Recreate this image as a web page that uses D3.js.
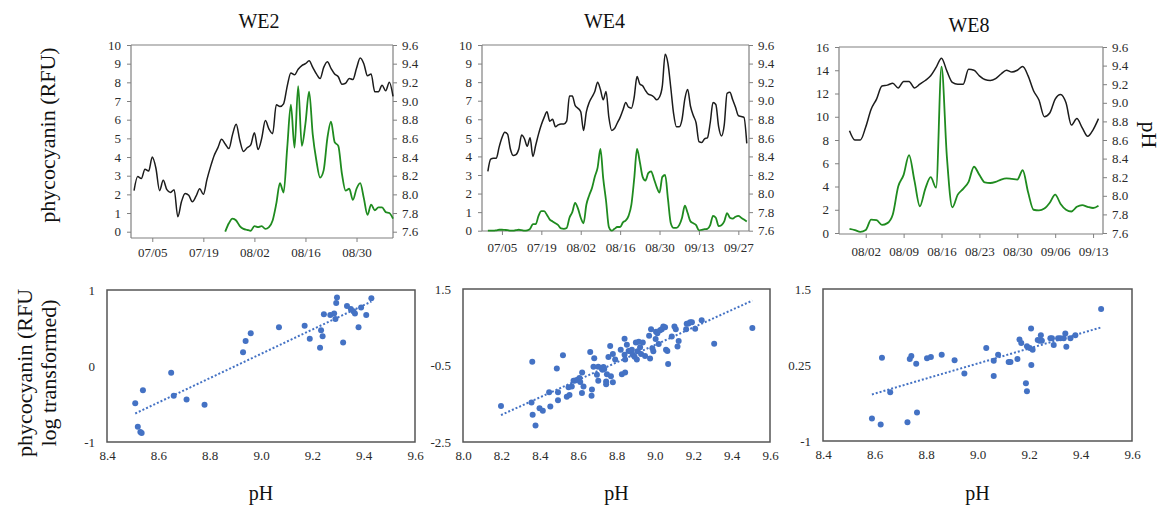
<!DOCTYPE html>
<html lang="en">
<head>
  <meta charset="UTF-8">
  <title>phycocyanin vs pH</title>
  <style>
    body { margin: 0; background: #fff; }
    svg text { font-family: "Liberation Serif", "Times New Roman", serif !important; }
  </style>
</head>
<body>
  <script src="https://cdn.jsdelivr.net/npm/d3@7"></script>
  <script>
    // ---- time series (daily) ----
    const we2Start = "2019-06-30";
    const we2PH = [8.04, 8.19, 8.17, 8.27, 8.25, 8.40, 8.28, 8.04, 8.15, 8.05,
      8.02, 8.05, 7.76, 7.92, 8.01, 7.99, 7.92, 7.98, 8.06, 8.00,
      8.16, 8.30, 8.42, 8.50, 8.59, 8.54, 8.49, 8.64, 8.75, 8.58,
      8.46, 8.50, 8.53, 8.66, 8.48, 8.60, 8.79, 8.70, 8.65, 8.96,
      8.94, 8.97, 9.16, 9.30, 9.28, 9.34, 9.38, 9.40, 9.43, 9.36,
      9.29, 9.24, 9.36, 9.42, 9.35, 9.29, 9.26, 9.18, 9.19, 9.24,
      9.23, 9.35, 9.46, 9.40, 9.27, 9.29, 9.10, 9.10, 9.17, 9.11,
      9.20, 9.05];
    const we2RfuStart = "2019-07-25";
    const we2RFU = [0.0, 0.45, 0.7, 0.6, 0.3, 0.15, 0.1, 0.05, 0.3, 0.25,
      0.3, 0.15, 0.25, 0.6, 1.5, 2.6, 2.1, 4.5, 6.8, 4.5,
      7.8, 4.6, 5.8, 7.5, 5.2, 3.8, 2.9, 3.3, 5.0, 5.9,
      4.8, 4.6, 3.1, 2.2, 2.3, 1.7, 2.3, 2.6, 1.8, 0.9,
      1.45, 1.15, 1.3, 1.3, 1.05, 1.0, 0.7];

    const we4Start = "2019-06-30";
    const we4PH = [8.24, 8.37, 8.38, 8.38, 8.50, 8.60, 8.66, 8.64, 8.48, 8.41,
      8.42, 8.48, 8.63, 8.59, 8.51, 8.60, 8.40, 8.52, 8.64, 8.74,
      8.82, 8.88, 8.78, 8.80, 8.72, 8.74, 8.75, 8.75, 8.78, 9.05,
      9.05, 8.95, 8.92, 8.88, 8.68, 8.88, 8.98, 9.04, 9.10, 9.20,
      9.12, 9.01, 9.10, 8.82, 8.68, 8.70, 8.76, 8.82, 8.90, 8.98,
      8.93, 8.92, 9.04, 9.26, 9.18, 9.16, 9.11, 9.07, 9.06, 9.04,
      9.01, 9.04, 9.16, 9.50, 9.40, 9.14, 8.86, 8.72, 8.72, 8.80,
      9.02, 9.12, 8.94, 8.84, 8.76, 8.56, 8.55, 8.59, 8.60, 8.76,
      8.98, 8.96, 8.72, 8.62, 8.74, 9.08, 9.09, 9.01, 8.93, 8.84,
      8.83, 8.82, 8.54];
    const we4RfuStart = "2019-06-30";
    const we4RFU = [0, 0, 0, 0.02, 0.05, 0.05, 0.04, 0.03, 0, 0,
      0.03, 0.05, 0.03, 0, 0.02, 0.1, 0.35, 0.35, 0.8, 1.05,
      1.05, 0.85, 0.6, 0.5, 0.4, 0.3, 0.12, 0.1, 0.15, 0.7,
      1.0, 1.5, 1.2, 0.7, 0.4, 1.4, 1.9, 2.3, 2.9, 3.4,
      4.4, 2.8, 1.6, 0.2, 0, 0.1, 0.2, 0.2, 0.45, 0.55,
      0.8, 1.4, 2.8, 4.4, 3.7, 2.9, 2.7, 3.1, 3.2, 2.8,
      2.35, 2.05, 2.9, 3.0, 1.7, 0.4, 0.15, 0.15, 0.3, 0.7,
      1.35, 0.95, 0.5, 0.4, 0.3, 0.02, 0.05, 0.08, 0.1, 0.3,
      0.8, 0.7, 0.25, 0.3, 0.5, 0.95, 0.7, 0.65, 0.75, 0.8,
      0.7, 0.6, 0.5];

    const we8Start = "2019-07-30";
    const we8PH = [8.70, 8.60, 8.60, 8.74, 8.93, 9.04, 9.18, 9.19, 9.21, 9.16,
      9.23, 9.23, 9.16, 9.20, 9.24, 9.29, 9.38, 9.48, 9.34, 9.22,
      9.20, 9.20, 9.36, 9.35, 9.29, 9.25, 9.24, 9.26, 9.31, 9.35,
      9.33, 9.35, 9.39, 9.29, 9.13, 9.03, 8.85, 8.89, 9.04, 9.09,
      9.00, 8.76, 8.83, 8.73, 8.64, 8.71, 8.83];
    const we8RfuStart = "2019-07-30";
    const we8RFU = [0.35, 0.25, 0.1, 0.25, 1.15, 1.1, 0.7, 0.85, 1.6, 4.0,
      5.0, 6.7, 4.5, 2.3, 3.8, 4.8, 3.9, 14.3, 6.5, 2.2,
      3.3, 3.8, 4.4, 5.7, 5.0, 4.35, 4.3, 4.4, 4.6, 4.7,
      4.65, 4.6, 5.4, 3.5, 2.0, 1.95, 2.1, 2.6, 3.3, 2.5,
      2.0, 1.85, 2.25, 2.4, 2.25, 2.15, 2.35];

    const we2Ticks = ["07/05", "07/19", "08/02", "08/16", "08/30"];
    const we4Ticks = ["07/05", "07/19", "08/02", "08/16", "08/30", "09/13", "09/27"];
    const we8Ticks = ["08/02", "08/09", "08/16", "08/23", "08/30", "09/06", "09/13"];

    // ---- scatter (pH vs log phycocyanin) ----
    const we2ScatPH = [8.51, 8.54, 8.52, 8.53, 8.535, 8.65, 8.66, 8.71, 8.78, 8.93,
      8.94, 8.96, 9.07, 9.17, 9.19, 9.23, 9.234, 9.24, 9.245, 9.27,
      9.285, 9.29, 9.293, 9.296, 9.32, 9.335, 9.35, 9.36, 9.366, 9.38,
      9.39, 9.41, 9.43];
    const we2ScatPC = [-0.49, -0.32, -0.80, -0.87, -0.88, -0.09, -0.39, -0.44, -0.51, 0.18,
      0.33, 0.43, 0.51, 0.53, 0.36, 0.24, 0.47, 0.39, 0.68, 0.67,
      0.69, 0.62, 0.83, 0.90, 0.31, 0.79, 0.75, 0.72, 0.69, 0.51,
      0.77, 0.67, 0.89];

    const we4ScatPH = [8.198, 8.361, 8.357, 8.363, 8.378, 8.399, 8.416, 8.449, 8.455, 8.489,
      8.495, 8.495, 8.521, 8.541, 8.555, 8.550, 8.567, 8.576, 8.585, 8.597,
      8.607, 8.611, 8.621, 8.620, 8.628, 8.663, 8.670, 8.672, 8.684, 8.680,
      8.698, 8.705, 8.705, 8.727, 8.732, 8.736, 8.746, 8.746, 8.750, 8.758,
      8.767, 8.771, 8.781, 8.781, 8.793, 8.822, 8.828, 8.842, 8.842, 8.845,
      8.845, 8.854, 8.863, 8.871, 8.880, 8.885, 8.894, 8.901, 8.906, 8.909,
      8.916, 8.923, 8.928, 8.937, 8.949, 8.970, 8.975, 8.980, 8.987, 8.992,
      9.004, 9.006, 9.013, 9.020, 9.027, 9.036, 9.044, 9.053, 9.058, 9.065,
      9.069, 9.088, 9.102, 9.109, 9.118, 9.124, 9.163, 9.166, 9.175, 9.184,
      9.193, 9.210, 9.244, 9.309, 9.508];
    const we4ScatPC = [-1.56, -0.40, -1.47, -1.79, -2.07, -1.62, -1.68, -1.20, -1.57, -0.58,
      -1.20, -1.41, -0.23, -1.32, -1.27, -1.07, -1.05, -0.90, -0.89, -0.87,
      -0.83, -0.93, -0.68, -1.22, -1.05, -0.15, -1.29, -1.13, -0.31, -0.53,
      -0.74, -0.90, -0.53, -0.61, -0.54, -0.59, -0.92, -0.99, -0.73, -0.28,
      0.01, -0.78, -0.20, -0.94, -0.34, -0.09, -0.73, 0.20, -0.22, -0.34,
      -0.68, 0.04, -0.12, -0.13, -0.09, -0.22, -0.27, 0.10, -0.34, -0.13,
      0.12, -0.02, -0.20, 0.10, -0.25, 0.28, -0.32, 0.45, -0.05, -0.13,
      0.19, 0.38, 0.34, 0.06, 0.42, 0.45, 0.52, 0.50, -0.09, -0.12,
      -0.46, 0.26, 0.52, 0.45, 0.00, 0.14, 0.45, 0.59, 0.60, 0.63,
      0.63, 0.46, 0.68, 0.07, 0.48];

    const we8ScatPH = [8.590, 8.624, 8.629, 8.661, 8.728, 8.737, 8.743, 8.762, 8.765, 8.804,
      8.819, 8.861, 8.911, 8.949, 9.034, 9.063, 9.063, 9.080, 9.121, 9.128,
      9.155, 9.163, 9.170, 9.188, 9.192, 9.192, 9.203, 9.208, 9.209, 9.214,
      9.234, 9.241, 9.246, 9.250, 9.283, 9.289, 9.296, 9.313, 9.322, 9.335,
      9.341, 9.345, 9.361, 9.380, 9.480];
    const we8ScatPC = [-0.63, -0.73, 0.37, -0.20, -0.69, 0.35, 0.40, 0.27, -0.53, 0.36,
      0.38, 0.42, 0.33, 0.11, 0.53, 0.32, 0.07, 0.42, 0.30, 0.30,
      0.35, 0.67, 0.61, -0.05, -0.18, 0.56, 0.53, 0.85, 0.25, 0.50,
      0.66, 0.65, 0.74, 0.65, 0.69, 0.69, 0.58, 0.69, 0.69, 0.69,
      0.77, 0.55, 0.69, 0.74, 1.17];

    const axisGray = "#808080";
    const textCol = "#2a2a2a";
    const blue = "#4472c4";
    const serif = "Liberation Serif";

    const svg = d3.select("body").append("svg")
      .attr("width", 1160).attr("height", 512)
      .attr("font-family", serif);

    const parseDay = d3.timeParse("%Y-%m-%d");
    const parseTick = d3.timeParse("%m/%d/%Y");
    const parseIso = d3.isoParse;
    function daily(start, values) {
      const t0 = parseDay(start);
      return values.map((v, i) => ({ date: d3.timeDay.offset(t0, i), v: v }));
    }

    function styleAxis(a) {
      a.attr("font-family", serif).attr("font-size", 13);
      a.select(".domain").remove();
      a.selectAll("line").attr("stroke", axisGray);
      a.selectAll("text").attr("fill", textCol);
    }

    function timePanel(cfg) {
      const g = svg.append("g");
      const x = d3.scaleTime()
        .domain(cfg.domain.map(parseIso))
        .range([cfg.left, cfg.right]);
      const yL = d3.scaleLinear().domain([0, cfg.rfuMax]).range([cfg.zero, cfg.top]);
      const yR = d3.scaleLinear().domain([7.6, 9.6]).range([cfg.zero, cfg.top]);

      // frame lines
      g.append("line").attr("x1", cfg.left).attr("x2", cfg.right)
        .attr("y1", cfg.top).attr("y2", cfg.top);
      g.append("line").attr("x1", cfg.left).attr("x2", cfg.right)
        .attr("y1", cfg.axisY).attr("y2", cfg.axisY);
      g.append("line").attr("x1", cfg.left).attr("x2", cfg.left)
        .attr("y1", cfg.top).attr("y2", cfg.axisY);
      g.append("line").attr("x1", cfg.right).attr("x2", cfg.right)
        .attr("y1", cfg.top).attr("y2", cfg.axisY);
      g.selectAll("line").attr("stroke", axisGray).attr("stroke-width", 1.2);

      const left = g.append("g").attr("transform", `translate(${cfg.left},0)`)
        .call(d3.axisLeft(yL).tickValues(d3.range(0, cfg.rfuMax + 0.1, cfg.rfuStep))
          .tickSize(4).tickPadding(6));
      const right = g.append("g").attr("transform", `translate(${cfg.right},0)`)
        .call(d3.axisRight(yR).tickValues(d3.range(7.6, 9.65, 0.2))
          .tickFormat(d3.format(".1f")).tickSize(4).tickPadding(5));
      const bottom = g.append("g").attr("transform", `translate(0,${cfg.axisY})`)
        .call(d3.axisBottom(x).tickValues(cfg.ticks.map(t => parseTick(t + "/2019")))
          .tickFormat(d3.timeFormat("%m/%d")).tickSize(4).tickPadding(cfg.tickPad));
      [left, right, bottom].forEach(styleAxis);

      const lineR = d3.line().x(d => x(d.date)).y(d => yR(d.v)).curve(d3.curveMonotoneX);
      const lineL = d3.line().x(d => x(d.date)).y(d => yL(d.v)).curve(d3.curveMonotoneX);
      g.append("path").datum(daily(cfg.phStart, cfg.ph))
        .attr("d", lineR).attr("fill", "none")
        .attr("stroke", "#1c1c1c").attr("stroke-width", 1.5);
      g.append("path").datum(daily(cfg.rfuStart, cfg.rfu))
        .attr("d", lineL).attr("fill", "none")
        .attr("stroke", "#1f8b1f").attr("stroke-width", 1.8);

      svg.append("text").attr("x", (cfg.left + cfg.right) / 2 + cfg.titleDx).attr("y", cfg.titleY)
        .attr("text-anchor", "middle").attr("font-size", 20).attr("fill", "#111")
        .text(cfg.title);
    }

    function scatterPanel(cfg) {
      const g = svg.append("g");
      const x = d3.scaleLinear().domain(cfg.xDomain).range([cfg.left, cfg.right]);
      const y = d3.scaleLinear().domain(cfg.yDomain).range([cfg.bottom, cfg.top]);
      const pts = cfg.ph.map((p, i) => ({ x: p, y: cfg.pc[i] }));

      const xa = g.append("g").attr("transform", `translate(0,${cfg.bottom})`)
        .call(d3.axisBottom(x).tickValues(d3.range(cfg.xDomain[0], cfg.xDomain[1] + 0.01, 0.2))
          .tickFormat(d3.format(".1f")).tickSize(0).tickPadding(9));
      const ya = g.append("g").attr("transform", `translate(${cfg.left},0)`)
        .call(d3.axisLeft(y).tickValues(cfg.yTicks).tickFormat(d => String(d))
          .tickSize(0).tickPadding(12));
      [xa, ya].forEach(styleAxis);

      g.append("rect").attr("x", cfg.left).attr("y", cfg.top)
        .attr("width", cfg.right - cfg.left).attr("height", cfg.bottom - cfg.top)
        .attr("fill", "none").attr("stroke", "#555").attr("stroke-width", 1.5);

      // least-squares trend line
      const mx = d3.mean(pts, d => d.x), my = d3.mean(pts, d => d.y);
      const slope = d3.sum(pts, d => (d.x - mx) * (d.y - my)) / d3.sum(pts, d => (d.x - mx) ** 2);
      const ext = d3.extent(pts, d => d.x);
      g.append("line")
        .attr("x1", x(ext[0])).attr("y1", y(my + slope * (ext[0] - mx)))
        .attr("x2", x(ext[1])).attr("y2", y(my + slope * (ext[1] - mx)))
        .attr("stroke", blue).attr("stroke-width", 2).attr("stroke-dasharray", "2,2");

      g.selectAll("circle").data(pts).join("circle")
        .attr("cx", d => x(d.x)).attr("cy", d => y(d.y)).attr("r", 3)
        .attr("fill", blue);

      svg.append("text").attr("x", (cfg.left + cfg.right) / 2).attr("y", 500)
        .attr("text-anchor", "middle").attr("font-size", 20).attr("fill", "#111")
        .text("pH");
    }

    timePanel({ title: "WE2", titleY: 28, titleDx: -3, left: 131, right: 393, top: 45, zero: 231.7, axisY: 238,
      tickPad: 6, domain: ["2019-06-29T04:00", "2019-09-09T00:00"], ticks: we2Ticks,
      rfuMax: 10, rfuStep: 1, phStart: we2Start, ph: we2PH, rfuStart: we2RfuStart, rfu: we2RFU });
    timePanel({ title: "WE4", titleY: 28, titleDx: -11, left: 482, right: 749, top: 45, zero: 230.7, axisY: 231,
      tickPad: 8, domain: ["2019-06-27T22:00", "2019-09-30T19:00"], ticks: we4Ticks,
      rfuMax: 10, rfuStep: 1, phStart: we4Start, ph: we4PH, rfuStart: we4RfuStart, rfu: we4RFU });
    timePanel({ title: "WE8", titleY: 32, titleDx: -2, left: 839, right: 1103, top: 47, zero: 233, axisY: 234,
      tickPad: 9, domain: ["2019-07-28T01:30", "2019-09-14T20:00"], ticks: we8Ticks,
      rfuMax: 16, rfuStep: 2, phStart: we8Start, ph: we8PH, rfuStart: we8RfuStart, rfu: we8RFU });

    scatterPanel({ left: 107, right: 415, top: 290, bottom: 442, xDomain: [8.4, 9.6], yDomain: [-1, 1],
      yTicks: [-1, 0, 1], ph: we2ScatPH, pc: we2ScatPC });
    scatterPanel({ left: 463, right: 770, top: 289, bottom: 442, xDomain: [8.0, 9.6], yDomain: [-2.5, 1.5],
      yTicks: [-2.5, -0.5, 1.5], ph: we4ScatPH, pc: we4ScatPC });
    scatterPanel({ left: 823, right: 1132, top: 289, bottom: 441, xDomain: [8.4, 9.6], yDomain: [-1, 1.5],
      yTicks: [-1, 0.25, 1.5], ph: we8ScatPH, pc: we8ScatPC });

    // shared axis titles
    svg.append("text").attr("transform", "translate(47,135) rotate(-90)")
      .attr("text-anchor", "middle").attr("dominant-baseline", "central")
      .attr("font-size", 22).attr("fill", "#111").text("phycocyanin (RFU)");
    const yl = svg.append("text").attr("transform", "translate(24,373) rotate(-90)")
      .attr("text-anchor", "middle").attr("dominant-baseline", "central")
      .attr("font-size", 22).attr("fill", "#111");
    yl.append("tspan").attr("x", 0).attr("dy", 0).text("phycocyanin (RFU");
    yl.append("tspan").attr("x", 0).attr("dy", 24).text("log transformed)");
    svg.append("text").attr("transform", "translate(1149,135) rotate(90)")
      .attr("text-anchor", "middle").attr("dominant-baseline", "central")
      .attr("font-size", 22).attr("fill", "#111").text("pH");
  </script>
</body>
</html>
